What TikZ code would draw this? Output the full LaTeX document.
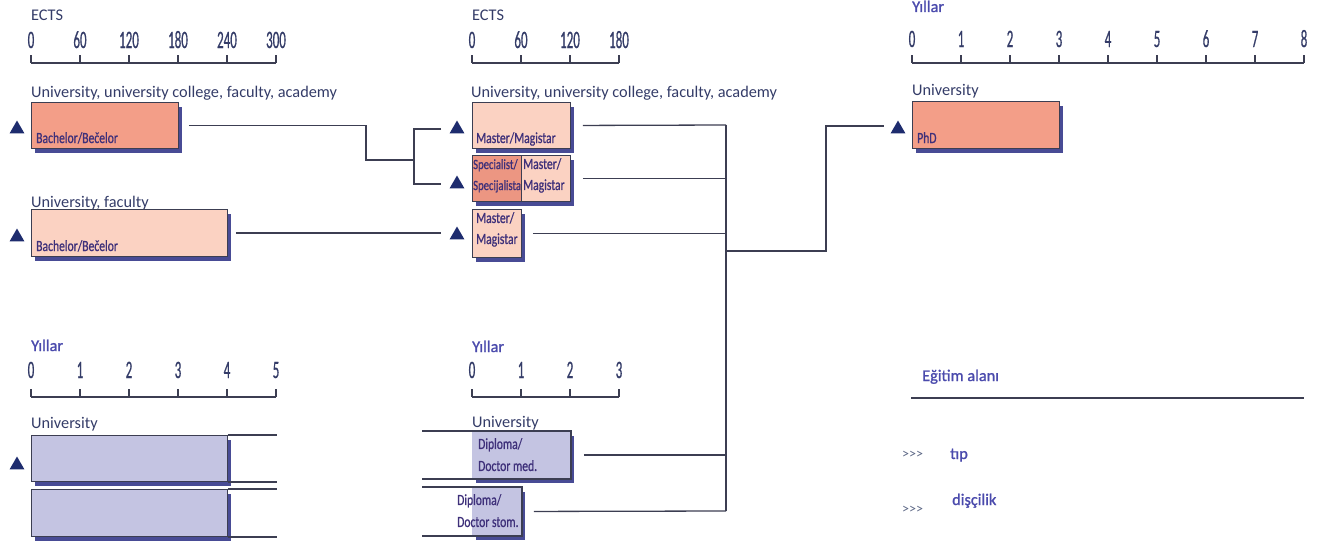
\documentclass[tikz,border=0pt]{standalone}
\usepackage{fontspec}
\setmainfont{Carlito}
\newfontfamily\condfont{Carlito}[FakeStretch=0.75,FakeBold=0.8]
\newfontfamily\numfont{Carlito}[FakeStretch=0.52,FakeBold=0.6]
\newfontfamily\yilfont{Carlito}[FakeBold=1.2]
\usepackage{tikz}
\usetikzlibrary{shapes.geometric,shadows,positioning}
\definecolor{salmon}{RGB}{243,158,136}
\definecolor{darksalmon}{RGB}{236,150,130}
\definecolor{lightsalmon}{RGB}{251,210,194}
\definecolor{lavender}{RGB}{196,196,226}
\definecolor{shadowblue}{RGB}{40,44,130}
\definecolor{edgecol}{RGB}{60,62,82}
\definecolor{headcol}{RGB}{52,60,104}
\definecolor{yilcol}{RGB}{74,74,172}
\definecolor{labcol}{RGB}{62,48,122}
\definecolor{tricol}{RGB}{30,44,110}
\definecolor{arrcol}{RGB}{92,103,133}

\begin{document}
\begin{tikzpicture}[x=1pt,y=-1pt,
  head/.style={anchor=base west,inner sep=0pt,text=headcol,font=\fontsize{16.3}{19}\selectfont},
  yil/.style={head,text=yilcol,font=\yilfont\fontsize{16.3}{19}\selectfont},
  num/.style={anchor=base,inner sep=0pt,text=headcol,font=\numfont\fontsize{25}{26}\selectfont},
  box/.style={draw=edgecol,line width=0.9pt,inner sep=0pt,anchor=north west,drop shadow={shadow xshift=4pt,shadow yshift=-5pt,fill=shadowblue,opacity=0.85}},
  flat/.style={box,draw=none},
  btxt/.style={inner sep=0pt,anchor=base west,text=labcol,align=left,font=\condfont\fontsize{15.5}{21}\selectfont},
  btxt2/.style={btxt,anchor=north west},
  tri/.style={regular polygon,regular polygon sides=3,fill=tricol,inner sep=0pt,minimum size=17pt},
  link/.style={draw=edgecol,line width=1.3pt},
  axis/.style={draw=edgecol,line width=1.3pt},
  chev/.style={anchor=west,inner sep=0pt,text=arrcol,font=\fontsize{14}{16}\selectfont}]
\useasboundingbox (0,0) rectangle (1333,546);

% scales
\node[head] (ects1) at (31,20) {ECTS};
\foreach \v [count=\i from 0] in {0,60,120,180,240,300} {\node[num] (ea\i) at (31+49*\i,48) {\v}; \draw[axis] (31+49*\i,55) -- (31+49*\i,63);}
\draw[axis] (31,63) -- (276,63);
\node[head] (ects2) at (472,20) {ECTS};
\foreach \v [count=\i from 0] in {0,60,120,180} {\node[num] (eb\i) at (472+49*\i,48) {\v}; \draw[axis] (472+49*\i,55) -- (472+49*\i,63);}
\draw[axis] (472,63) -- (619,63);
\node[yil] (yil1) at (912,12) {Yıllar};
\foreach \i in {0,...,8} {\node[num] (ya\i) at (912+49*\i,47) {\i}; \draw[axis] (912+49*\i,55) -- (912+49*\i,63);}
\draw[axis] (912,63) -- (1304,63);
\node[yil] (yil2) at (31,351) {Yıllar};
\foreach \i in {0,...,5} {\node[num] (yb\i) at (31+49*\i,378) {\i}; \draw[axis] (31+49*\i,389) -- (31+49*\i,397);}
\draw[axis] (31,397) -- (276,397);
\node[yil] (yil3) at (472,352) {Yıllar};
\foreach \i in {0,...,3} {\node[num] (yc\i) at (472+49*\i,378) {\i}; \draw[axis] (472+49*\i,389) -- (472+49*\i,397);}
\draw[axis] (472,397) -- (619,397);

% institutions
\node[head] (inst1) at (31,97) {University, university college, faculty, academy};
\node[head] (inst2) at (31,207) {University, faculty};
\node[head] (inst3) at (471,97) {University, university college, faculty, academy};
\node[head] (inst4) at (912,95) {University};
\node[head] (inst5) at (31,428) {University};
\node[head] (inst6) at (472,427) {University};

% programmes
\node[box,fill=salmon,minimum width=147pt,minimum height=46pt] (ba1) at (31,102) {};
\node[btxt] at (36,143) {Bachelor/Bečelor};
\node[box,fill=lightsalmon,minimum width=196pt,minimum height=47pt] (ba2) at (31,209) {};
\node[btxt] at (36,251) {Bachelor/Bečelor};
\node[box,fill=lightsalmon,minimum width=98pt,minimum height=46pt] (ma1) at (472,102) {};
\node[btxt] at (476,143) {Master/Magistar};
\node[box,fill=darksalmon,minimum width=49pt,minimum height=46pt] (sp) at (472,155) {};
\node[btxt2,font=\condfont\fontsize{14.2}{21}\selectfont] at (473,159) {Specialist/\\Specijalista};
\node[box,fill=lightsalmon,minimum width=49pt,minimum height=46pt] (ma2) at (521,155) {};
\node[btxt2] at (523,158) {Master/\\Magistar};
\node[box,fill=lightsalmon,minimum width=49pt,minimum height=48pt] (ma3) at (472,209) {};
\node[btxt2] at (476,212) {Master/\\Magistar};
\node[box,fill=salmon,minimum width=147pt,minimum height=47pt] (phd) at (912,101) {};
\node[btxt] at (917,143) {PhD};
\node[box,fill=lavender,minimum width=196pt,minimum height=46pt] (un1) at (31,435) {};
\node[box,fill=lavender,minimum width=196pt,minimum height=47pt] (un2) at (31,489) {};
\node[flat,fill=lavender,minimum width=98pt,minimum height=47pt] (dmed) at (472,431) {};
\node[btxt2,font=\condfont\fontsize{15.5}{22}\selectfont] at (478,438) {Diploma/\\Doctor med.};
\node[flat,fill=lavender,minimum width=49pt,minimum height=48pt] (dstom) at (472,487) {};
\node[btxt2,font=\condfont\fontsize{15.5}{22}\selectfont] at (457,494) {Diploma/\\Doctor stom.};
\draw[link] (un1.north east) -- ++(49,0); \draw[link] (un1.south east) -- ++(49,0);
\draw[link] (un2.north east) -- ++(49,0); \draw[link] (un2.south east) -- ++(49,0);
\draw[link] ([xshift=-50pt]dmed.north west) -- (dmed.north east) -- (dmed.south east) -- ([xshift=-50pt]dmed.south west);
\draw[link] ([xshift=-50pt]dstom.north west) -- (dstom.north east) -- (dstom.south east) -- ([xshift=-50pt]dstom.south west);

% entry marks
\node[tri] (t1) at (17,129) {};
\node[tri] (t2) at (17,237) {};
\node[tri] (tm1) at (457,129) {};
\node[tri] (tm2) at (457,184) {};
\node[tri] (tm3) at (457,235) {};
\node[tri] (tphd) at (898,129) {};
\node[tri] (tun) at (17,465) {};

% progression
\coordinate (j1) at (366,160); \coordinate (j2) at (414,160);
\coordinate (bt) at (726,125); \coordinate (bb) at (726,511); \coordinate (bm) at (726,251);
\draw[link] ([xshift=10pt]ba1.east) -| (j1) -- (j2);
\draw[link] ([xshift=-16pt]tm1.center) -| (j2) |- ([xshift=-16pt]tm2.center);
\draw[link] ([xshift=8pt]ba2.east) -- ([xshift=-16pt]tm3.center |- ba2.east);
\draw[link] ([xshift=12pt]ma1.east) -- (bt);
\draw[link] ([xshift=12pt]ma2.east) -- (bt |- ma2.east);
\draw[link] ([xshift=11pt]ma3.east) -- (bt |- ma3.east);
\draw[link] ([xshift=13pt]dmed.east) -- (bt |- dmed.east);
\draw[link] ([xshift=12pt]dstom.east) -- (bb);
\draw[link] (bt) -- (bb);
\draw[link] (bm) -| (826,126) -- ([xshift=-14pt]tphd.center |- 0,126);

% legend
\node[yil] (field) at (922,381) {Eğitim alanı};
\draw[axis] (911,398) -- (1304,398);
\node[chev] (ar1) at (902,455) {>{}>{}>};
\node[yil] (med) at (950,459) {tıp};
\node[chev] (ar2) at (902,510) {>{}>{}>};
\node[yil] (dent) at (952,505) {dişçilik};
\end{tikzpicture}
\end{document}
